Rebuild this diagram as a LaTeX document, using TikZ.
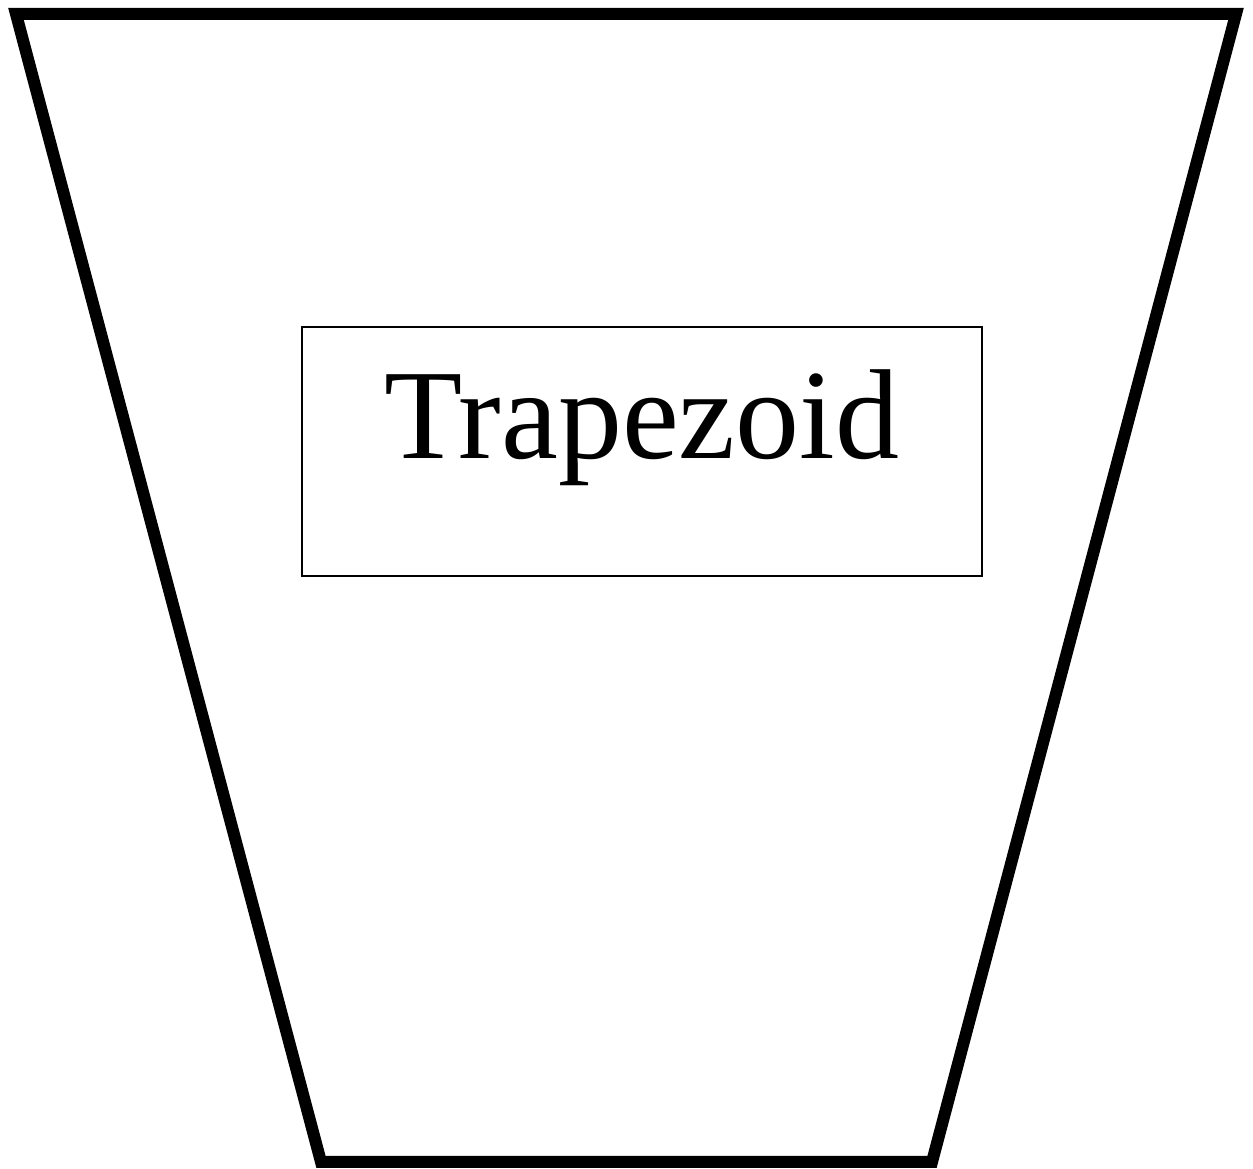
\documentclass[tikz,border=0pt]{standalone}
\usepackage{fontspec}
\setmainfont{Liberation Serif}
\begin{document}
\begin{tikzpicture}[x=1pt,y=1pt,
  outline/.style={line width=12pt, line join=miter},
  labelbox/.style={draw, line width=1.5pt, minimum width=680pt, minimum height=249pt, inner sep=0pt},
  labeltext/.style={font=\fontsize{128}{154}\selectfont, inner sep=0pt}]
\useasboundingbox (0,0) rectangle (1253,1169);
\fill[white] (0,0) rectangle (1253,1169);
\coordinate (tl) at (16,1155);
\coordinate (tr) at (1236,1155);
\coordinate (br) at (932,7);
\coordinate (bl) at (321,7);
\draw[outline] (tl) -- (tr) -- (br) -- (bl) -- cycle;
\node[labelbox] (box) at (642,717.5) {};
\node[labeltext, anchor=base] (txt) at (642,710.5) {Trapezoid};
\end{tikzpicture}
\end{document}
